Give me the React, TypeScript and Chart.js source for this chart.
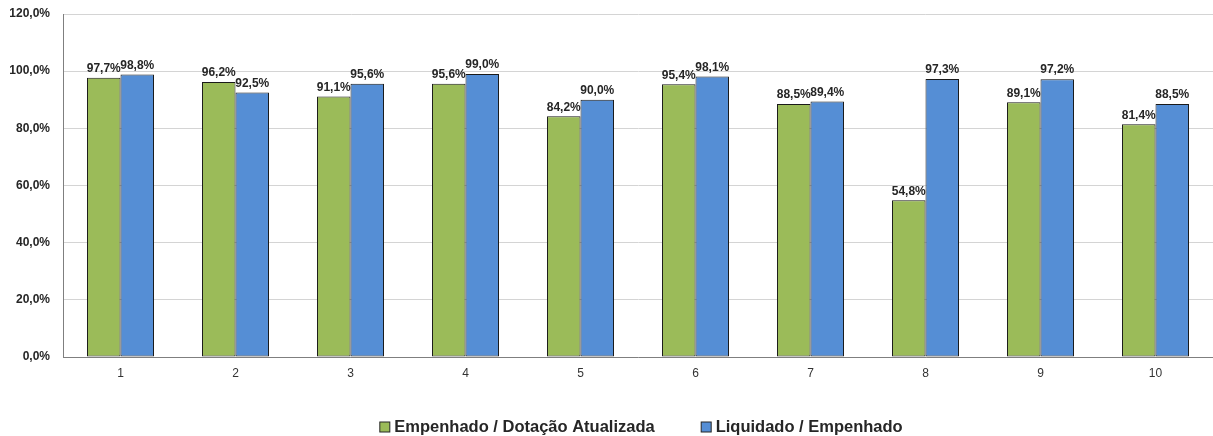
import React, { useEffect, useRef } from "react";
import { Chart, registerables } from "chart.js";

Chart.register(...registerables);

const categories = ["1", "2", "3", "4", "5", "6", "7", "8", "9", "10"];
const empenhadoDotacao = [97.7, 96.2, 91.1, 95.6, 84.2, 95.4, 88.5, 54.8, 89.1, 81.4];
const liquidadoEmpenhado = [98.8, 92.5, 95.6, 99.0, 90.0, 98.1, 89.4, 97.3, 97.2, 88.5];
const seriesNames = ["Empenhado / Dotação Atualizada", "Liquidado / Empenhado"];
const seriesColors = ["#9BBB59", "#558ED5"];

const FONT = "'Liberation Sans', Arial, sans-serif";

const fmt = (v: number) => v.toFixed(1).replace(".", ",") + "%";

const dataLabels = {
  id: "dataLabels",
  afterDatasetsDraw(chart: any) {
    const ctx = chart.ctx;
    ctx.save();
    ctx.font = `bold 12px ${FONT}`;
    ctx.fillStyle = "#262626";
    ctx.textAlign = "center";
    ctx.textBaseline = "bottom";
    chart.data.datasets.forEach((ds: any, i: number) => {
      const meta = chart.getDatasetMeta(i);
      meta.data.forEach((el: any, j: number) => {
        ctx.fillText(fmt(ds.data[j]), el.x, el.y - 3);
      });
    });
    ctx.restore();
  },
};

// legend drawn below the plot, centred on the plot area
const bottomLegend = {
  id: "bottomLegend",
  afterDraw(chart: any) {
    const ctx = chart.ctx;
    const box = 11;
    const gapText = 4;
    const gapItem = 46;
    ctx.save();
    ctx.font = `bold 16.5px ${FONT}`;
    const items = chart.data.datasets.map((ds: any) => ({
      text: ds.label,
      color: ds.backgroundColor,
      w: ctx.measureText(ds.label).width,
    }));
    const total =
      items.reduce((a: number, it: any) => a + box + gapText + it.w, 0) + gapItem * (items.length - 1);
    const cx = (chart.chartArea.left + chart.chartArea.right) / 2 + 3;
    const cy = chart.height - 9;
    let x = cx - total / 2;
    ctx.textBaseline = "middle";
    ctx.textAlign = "left";
    items.forEach((it: any) => {
      ctx.fillStyle = it.color;
      ctx.fillRect(x + 0.5, cy - box / 2 + 0.5, box - 1, box - 1);
      ctx.strokeStyle = "#262626";
      ctx.lineWidth = 1;
      ctx.strokeRect(x + 0.5, cy - box / 2 + 0.5, box - 1, box - 1);
      ctx.fillStyle = "#262626";
      ctx.fillText(it.text, x + box + gapText, cy);
      x += box + gapText + it.w + gapItem;
    });
    ctx.restore();
  },
};

export default function App() {
  const ref = useRef<HTMLCanvasElement | null>(null);
  useEffect(() => {
    document.body.style.margin = "0";
    const chart = new Chart(ref.current!, {
      type: "bar",
      data: {
        labels: categories,
        datasets: [
          {
            label: seriesNames[0],
            data: empenhadoDotacao,
            backgroundColor: seriesColors[0],
            borderColor: "#1a1a1a",
            borderWidth: 1,
            borderSkipped: false,
          },
          {
            label: seriesNames[1],
            data: liquidadoEmpenhado,
            backgroundColor: seriesColors[1],
            borderColor: "#1a1a1a",
            borderWidth: 1,
            borderSkipped: false,
          },
        ],
      },
      options: {
        responsive: true,
        maintainAspectRatio: false,
        animation: false,
        layout: { padding: { top: 14, right: 0, left: 0, bottom: 49 } },
        datasets: { bar: { categoryPercentage: 0.583, barPercentage: 1 } },
        plugins: {
          tooltip: { enabled: false },
          legend: { display: false },
        },
        scales: {
          x: {
            grid: { display: false, drawTicks: false },
            border: { display: true, color: "#7f7f7f", width: 1 },
            ticks: { color: "#333", font: { family: FONT, size: 12 }, padding: 9 },
            afterFit: (s: any) => {
              s.height = 30;
              s.paddingLeft = 0;
              s.paddingRight = 0;
            },
          },
          y: {
            min: 0,
            max: 120,
            grid: { color: "#d4d4d4", drawTicks: false },
            border: { display: true, color: "#7f7f7f", width: 1 },
            ticks: {
              stepSize: 20,
              padding: 13,
              color: "#262626",
              font: { family: FONT, size: 12, weight: "bold" },
              callback: (v: any) => fmt(Number(v)),
            },
            afterFit: (s: any) => {
              s.width = 63;
              s.paddingTop = 0;
              s.paddingBottom = 0;
            },
          },
        },
      },
      plugins: [dataLabels, bottomLegend],
    });
    return () => chart.destroy();
  }, []);
  return (
    <div style={{ width: "1213px", height: "436px", position: "relative" }}>
      <canvas ref={ref} />
    </div>
  );
}
